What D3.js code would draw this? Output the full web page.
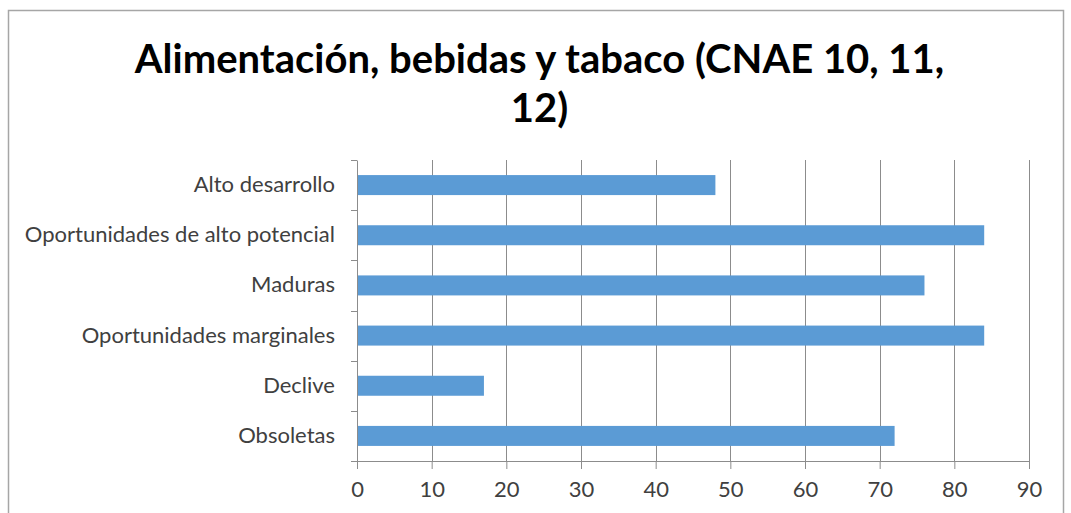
<!DOCTYPE html>
<html><head><meta charset="utf-8">
<script src="https://cdn.jsdelivr.net/npm/d3@7/dist/d3.min.js"></script>
<style>body{margin:0;background:#fff}svg{display:block}</style>
</head><body><svg id="c" width="1071" height="513"></svg>
<script>
const categories = ["Alto desarrollo","Oportunidades de alto potencial","Maduras","Oportunidades marginales","Declive","Obsoletas"];
const values = [48,84,76,84,17,72];
const xTicks = [0,10,20,30,40,50,60,70,80,90];
const titleLines = ["Alimentación, bebidas y tabaco (CNAE 10, 11,","12)"];

const svg = d3.select("#c");
const font = "Lato, 'Open Sans', sans-serif";
// chart border
svg.append("rect").attr("x",8.5).attr("y",10.5).attr("width",1055).attr("height",510)
  .attr("fill","#fff").attr("stroke","#a6a6a6").attr("stroke-width",1.5);

const m = {left:357, right:1029, top:160, bottom:461};
const x = d3.scaleLinear().domain([0,90]).range([m.left,m.right]);
const yb = d3.scaleBand().domain(categories).range([m.top,m.bottom]);

// gridlines
svg.append("g").selectAll("line").data(xTicks.slice(1)).join("line")
  .attr("x1",d=>Math.round(x(d))+0.5).attr("x2",d=>Math.round(x(d))+0.5)
  .attr("y1",m.top).attr("y2",m.bottom).attr("stroke","#8c8c8c").attr("stroke-width",1);

// bars
svg.append("g").selectAll("rect").data(categories).join("rect")
  .attr("x",x(0)).attr("y",d=>yb(d)+yb.bandwidth()/2-10)
  .attr("width",(d,i)=>x(values[i])-x(0)).attr("height",20)
  .attr("fill","#5b9bd5");

// x axis
const xa = svg.append("g").attr("transform",`translate(0,${m.bottom})`)
  .call(d3.axisBottom(x).tickValues(xTicks).tickSize(8).tickSizeOuter(0).tickPadding(12));
xa.select(".domain").attr("stroke","#8c8c8c");
xa.selectAll(".tick line").attr("stroke","#8c8c8c");
xa.selectAll("text").attr("font-family",font).attr("font-size",22).attr("fill","#404040");

// y axis
const ya = svg.append("g").attr("transform",`translate(${m.left},0)`)
  .call(d3.axisLeft(yb).tickSize(0).tickPadding(22));
ya.select(".domain").attr("stroke","#8c8c8c");
ya.selectAll("text").attr("font-family",font).attr("font-size",22).attr("fill","#404040");
// category boundary ticks
const bounds = categories.map(c=>yb(c)).concat([m.bottom]);
svg.append("g").selectAll("line").data(bounds).join("line")
  .attr("x1",m.left-6).attr("x2",m.left).attr("y1",d=>Math.round(d)+0.5).attr("y2",d=>Math.round(d)+0.5)
  .attr("stroke","#8c8c8c");

// title
svg.append("text").attr("text-anchor","middle").attr("font-family",font).attr("font-weight","bold")
  .attr("font-size",40).attr("fill","#000")
  .selectAll("tspan").data(titleLines).join("tspan")
  .attr("x",539.5).attr("y",(d,i)=>73+i*49).text(d=>d);
</script></body></html>
